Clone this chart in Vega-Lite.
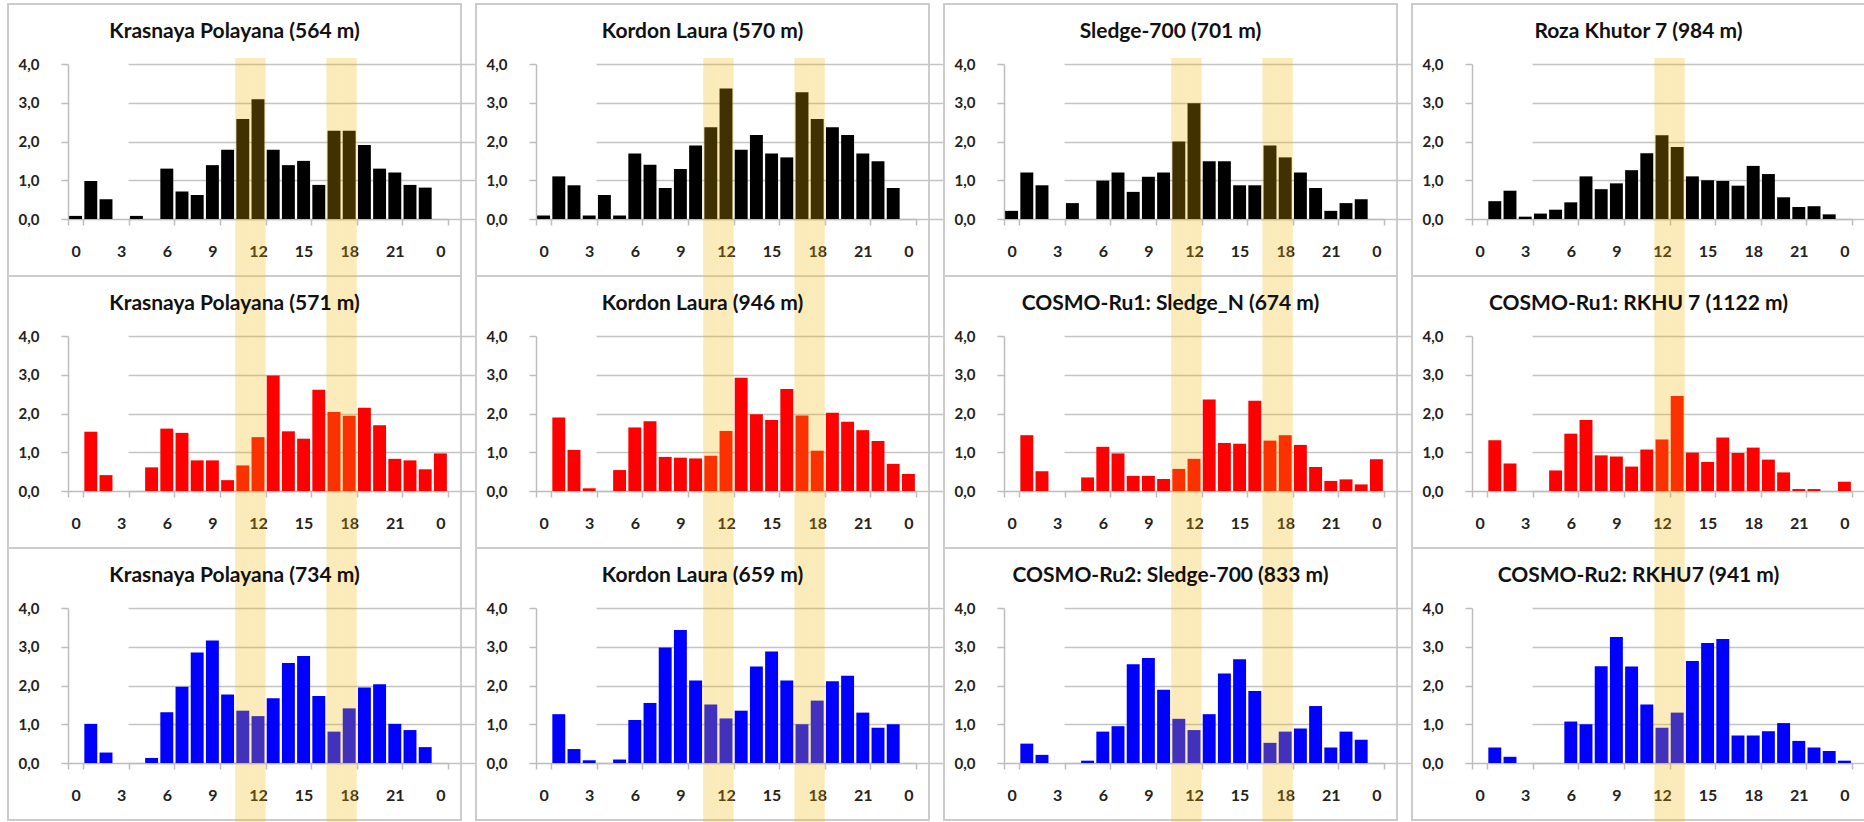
{
  "$schema": "https://vega.github.io/schema/vega-lite/v6.json",
  "padding": {"left": 7, "top": 3, "right": 0, "bottom": 0},
  "background": "white",
  "datasets": {
    "kp564": [{"h":0,"v":0.08},{"h":1,"v":0.98},{"h":2,"v":0.51},{"h":4,"v":0.08},{"h":6,"v":1.30},{"h":7,"v":0.71},{"h":8,"v":0.62},{"h":9,"v":1.39},{"h":10,"v":1.79},{"h":11,"v":2.58},{"h":12,"v":3.09},{"h":13,"v":1.79},{"h":14,"v":1.39},{"h":15,"v":1.50},{"h":16,"v":0.88},{"h":17,"v":2.28},{"h":18,"v":2.28},{"h":19,"v":1.91},{"h":20,"v":1.30},{"h":21,"v":1.20},{"h":22,"v":0.88},{"h":23,"v":0.81}],
    "kl570": [{"h":0,"v":0.09},{"h":1,"v":1.10},{"h":2,"v":0.87},{"h":3,"v":0.09},{"h":4,"v":0.62},{"h":5,"v":0.09},{"h":6,"v":1.69},{"h":7,"v":1.40},{"h":8,"v":0.80},{"h":9,"v":1.29},{"h":10,"v":1.90},{"h":11,"v":2.37},{"h":12,"v":3.37},{"h":13,"v":1.79},{"h":14,"v":2.17},{"h":15,"v":1.69},{"h":16,"v":1.59},{"h":17,"v":3.27},{"h":18,"v":2.58},{"h":19,"v":2.37},{"h":20,"v":2.17},{"h":21,"v":1.69},{"h":22,"v":1.49},{"h":23,"v":0.80}],
    "s701": [{"h":0,"v":0.21},{"h":1,"v":1.20},{"h":2,"v":0.87},{"h":4,"v":0.41},{"h":6,"v":0.99},{"h":7,"v":1.20},{"h":8,"v":0.70},{"h":9,"v":1.09},{"h":10,"v":1.20},{"h":11,"v":2.00},{"h":12,"v":2.99},{"h":13,"v":1.49},{"h":14,"v":1.49},{"h":15,"v":0.87},{"h":16,"v":0.87},{"h":17,"v":1.90},{"h":18,"v":1.59},{"h":19,"v":1.20},{"h":20,"v":0.80},{"h":21,"v":0.21},{"h":22,"v":0.41},{"h":23,"v":0.51}],
    "rk984": [{"h":1,"v":0.46},{"h":2,"v":0.73},{"h":3,"v":0.06},{"h":4,"v":0.14},{"h":5,"v":0.24},{"h":6,"v":0.43},{"h":7,"v":1.10},{"h":8,"v":0.77},{"h":9,"v":0.92},{"h":10,"v":1.26},{"h":11,"v":1.70},{"h":12,"v":2.16},{"h":13,"v":1.86},{"h":14,"v":1.10},{"h":15,"v":1.00},{"h":16,"v":0.98},{"h":17,"v":0.86},{"h":18,"v":1.37},{"h":19,"v":1.16},{"h":20,"v":0.56},{"h":21,"v":0.31},{"h":22,"v":0.33},{"h":23,"v":0.12}],
    "kp571": [{"h":1,"v":1.53},{"h":2,"v":0.41},{"h":5,"v":0.61},{"h":6,"v":1.61},{"h":7,"v":1.50},{"h":8,"v":0.79},{"h":9,"v":0.79},{"h":10,"v":0.28},{"h":11,"v":0.66},{"h":12,"v":1.39},{"h":13,"v":2.98},{"h":14,"v":1.54},{"h":15,"v":1.35},{"h":16,"v":2.61},{"h":17,"v":2.04},{"h":18,"v":1.94},{"h":19,"v":2.15},{"h":20,"v":1.70},{"h":21,"v":0.83},{"h":22,"v":0.79},{"h":23,"v":0.56},{"h":24,"v":0.97}],
    "kl946": [{"h":1,"v":1.90},{"h":2,"v":1.06},{"h":3,"v":0.07},{"h":5,"v":0.54},{"h":6,"v":1.64},{"h":7,"v":1.80},{"h":8,"v":0.88},{"h":9,"v":0.86},{"h":10,"v":0.84},{"h":11,"v":0.91},{"h":12,"v":1.55},{"h":13,"v":2.92},{"h":14,"v":1.98},{"h":15,"v":1.83},{"h":16,"v":2.63},{"h":17,"v":1.95},{"h":18,"v":1.04},{"h":19,"v":2.02},{"h":20,"v":1.79},{"h":21,"v":1.57},{"h":22,"v":1.29},{"h":23,"v":0.70},{"h":24,"v":0.44}],
    "ru1sn674": [{"h":1,"v":1.44},{"h":2,"v":0.51},{"h":5,"v":0.35},{"h":6,"v":1.14},{"h":7,"v":0.97},{"h":8,"v":0.39},{"h":9,"v":0.39},{"h":10,"v":0.31},{"h":11,"v":0.57},{"h":12,"v":0.83},{"h":13,"v":2.36},{"h":14,"v":1.24},{"h":15,"v":1.22},{"h":16,"v":2.33},{"h":17,"v":1.30},{"h":18,"v":1.44},{"h":19,"v":1.19},{"h":20,"v":0.62},{"h":21,"v":0.26},{"h":22,"v":0.30},{"h":23,"v":0.17},{"h":24,"v":0.82}],
    "ru1rk1122": [{"h":1,"v":1.31},{"h":2,"v":0.71},{"h":5,"v":0.53},{"h":6,"v":1.48},{"h":7,"v":1.83},{"h":8,"v":0.92},{"h":9,"v":0.89},{"h":10,"v":0.63},{"h":11,"v":1.07},{"h":12,"v":1.33},{"h":13,"v":2.45},{"h":14,"v":0.99},{"h":15,"v":0.75},{"h":16,"v":1.38},{"h":17,"v":0.98},{"h":18,"v":1.12},{"h":19,"v":0.81},{"h":20,"v":0.48},{"h":21,"v":0.05},{"h":22,"v":0.05},{"h":24,"v":0.24}],
    "kp734": [{"h":1,"v":1.01},{"h":2,"v":0.27},{"h":5,"v":0.13},{"h":6,"v":1.31},{"h":7,"v":1.97},{"h":8,"v":2.85},{"h":9,"v":3.16},{"h":10,"v":1.77},{"h":11,"v":1.35},{"h":12,"v":1.21},{"h":13,"v":1.67},{"h":14,"v":2.58},{"h":15,"v":2.76},{"h":16,"v":1.73},{"h":17,"v":0.81},{"h":18,"v":1.41},{"h":19,"v":1.95},{"h":20,"v":2.03},{"h":21,"v":1.01},{"h":22,"v":0.85},{"h":23,"v":0.41}],
    "kl659": [{"h":1,"v":1.26},{"h":2,"v":0.36},{"h":3,"v":0.07},{"h":5,"v":0.09},{"h":6,"v":1.11},{"h":7,"v":1.55},{"h":8,"v":2.98},{"h":9,"v":3.43},{"h":10,"v":2.13},{"h":11,"v":1.51},{"h":12,"v":1.15},{"h":13,"v":1.35},{"h":14,"v":2.49},{"h":15,"v":2.88},{"h":16,"v":2.13},{"h":17,"v":1.00},{"h":18,"v":1.61},{"h":19,"v":2.11},{"h":20,"v":2.25},{"h":21,"v":1.30},{"h":22,"v":0.91},{"h":23,"v":1.00}],
    "ru2s833": [{"h":1,"v":0.50},{"h":2,"v":0.21},{"h":5,"v":0.06},{"h":6,"v":0.81},{"h":7,"v":0.95},{"h":8,"v":2.55},{"h":9,"v":2.71},{"h":10,"v":1.89},{"h":11,"v":1.14},{"h":12,"v":0.85},{"h":13,"v":1.26},{"h":14,"v":2.31},{"h":15,"v":2.68},{"h":16,"v":1.86},{"h":17,"v":0.52},{"h":18,"v":0.81},{"h":19,"v":0.89},{"h":20,"v":1.47},{"h":21,"v":0.40},{"h":22,"v":0.81},{"h":23,"v":0.60}],
    "ru2rk941": [{"h":1,"v":0.40},{"h":2,"v":0.16},{"h":6,"v":1.07},{"h":7,"v":1.00},{"h":8,"v":2.50},{"h":9,"v":3.25},{"h":10,"v":2.49},{"h":11,"v":1.51},{"h":12,"v":0.91},{"h":13,"v":1.30},{"h":14,"v":2.63},{"h":15,"v":3.10},{"h":16,"v":3.20},{"h":17,"v":0.71},{"h":18,"v":0.71},{"h":19,"v":0.82},{"h":20,"v":1.03},{"h":21,"v":0.57},{"h":22,"v":0.40},{"h":23,"v":0.31},{"h":24,"v":0.06}],
    "hlNoonEvening": [{"h":11},{"h":12},{"h":17},{"h":18}],
    "hlNoon": [{"h":12},{"h":13}]
  },
  "spacing": 13,
  "hconcat": [
    {
      "bounds": "flush",
      "spacing": 0,
      "vconcat": [
        {
          "width": 453, "height": 272,
          "title": "Krasnaya Polayana (564 m)",
          "encoding": {"x": {"field": "h", "type": "ordinal", "scale": {"domain": [0,1,2,3,4,5,6,7,8,9,10,11,12,13,14,15,16,17,18,19,20,21,22,23,24], "range": [60, 440], "paddingInner": 0, "paddingOuter": 0}, "axis": {"values": [0,3,6,9,12,15,18,21,24], "labelExpr": "datum.value === 24 ? '0' : datum.label"}}},
          "layer": [
            {"data": {"name": "kp564"}, "mark": {"type": "bar", "color": "#000000", "width": {"band": 0.85}},
             "encoding": {"y": {"field": "v", "type": "quantitative", "scale": {"domain": [0, 4], "range": [215, 60], "nice": false}, "axis": {"values": [0,1,2,3,4], "labelExpr": "replace(format(datum.value, '.1f'), '.', ',')"}}}},
            {"data": {"name": "hlNoonEvening"}, "mark": {"type": "rect", "fill": "#F5B400", "fillOpacity": 0.27, "clip": false},
             "encoding": {"y": {"datum": 4.155}, "y2": {"datum": -1.471}}}
          ]
        },
        {
          "width": 453, "height": 272,
          "title": "Krasnaya Polayana (571 m)",
          "encoding": {"x": {"field": "h", "type": "ordinal", "scale": {"domain": [0,1,2,3,4,5,6,7,8,9,10,11,12,13,14,15,16,17,18,19,20,21,22,23,24], "range": [60, 440], "paddingInner": 0, "paddingOuter": 0}, "axis": {"values": [0,3,6,9,12,15,18,21,24], "labelExpr": "datum.value === 24 ? '0' : datum.label"}}},
          "layer": [
            {"data": {"name": "kp571"}, "mark": {"type": "bar", "color": "#FF0000", "width": {"band": 0.85}},
             "encoding": {"y": {"field": "v", "type": "quantitative", "scale": {"domain": [0, 4], "range": [215, 60], "nice": false}, "axis": {"values": [0,1,2,3,4], "labelExpr": "replace(format(datum.value, '.1f'), '.', ',')"}}}},
            {"data": {"name": "hlNoonEvening"}, "mark": {"type": "rect", "fill": "#F5B400", "fillOpacity": 0.27, "clip": false},
             "encoding": {"y": {"datum": 5.548}, "y2": {"datum": -1.471}}}
          ]
        },
        {
          "width": 453, "height": 272,
          "title": "Krasnaya Polayana (734 m)",
          "encoding": {"x": {"field": "h", "type": "ordinal", "scale": {"domain": [0,1,2,3,4,5,6,7,8,9,10,11,12,13,14,15,16,17,18,19,20,21,22,23,24], "range": [60, 440], "paddingInner": 0, "paddingOuter": 0}, "axis": {"values": [0,3,6,9,12,15,18,21,24], "labelExpr": "datum.value === 24 ? '0' : datum.label"}}},
          "layer": [
            {"data": {"name": "kp734"}, "mark": {"type": "bar", "color": "#0000FF", "width": {"band": 0.85}},
             "encoding": {"y": {"field": "v", "type": "quantitative", "scale": {"domain": [0, 4], "range": [215, 60], "nice": false}, "axis": {"values": [0,1,2,3,4], "labelExpr": "replace(format(datum.value, '.1f'), '.', ',')"}}}},
            {"data": {"name": "hlNoonEvening"}, "mark": {"type": "rect", "fill": "#F5B400", "fillOpacity": 0.27, "clip": false},
             "encoding": {"y": {"datum": 5.548}, "y2": {"datum": -1.548}}}
          ]
        }
      ]
    },
    {
      "bounds": "flush",
      "spacing": 0,
      "vconcat": [
        {
          "width": 453, "height": 272,
          "title": "Kordon Laura (570 m)",
          "encoding": {"x": {"field": "h", "type": "ordinal", "scale": {"domain": [0,1,2,3,4,5,6,7,8,9,10,11,12,13,14,15,16,17,18,19,20,21,22,23,24], "range": [60, 440], "paddingInner": 0, "paddingOuter": 0}, "axis": {"values": [0,3,6,9,12,15,18,21,24], "labelExpr": "datum.value === 24 ? '0' : datum.label"}}},
          "layer": [
            {"data": {"name": "kl570"}, "mark": {"type": "bar", "color": "#000000", "width": {"band": 0.85}},
             "encoding": {"y": {"field": "v", "type": "quantitative", "scale": {"domain": [0, 4], "range": [215, 60], "nice": false}, "axis": {"values": [0,1,2,3,4], "labelExpr": "replace(format(datum.value, '.1f'), '.', ',')"}}}},
            {"data": {"name": "hlNoonEvening"}, "mark": {"type": "rect", "fill": "#F5B400", "fillOpacity": 0.27, "clip": false},
             "encoding": {"y": {"datum": 4.155}, "y2": {"datum": -1.471}}}
          ]
        },
        {
          "width": 453, "height": 272,
          "title": "Kordon Laura (946 m)",
          "encoding": {"x": {"field": "h", "type": "ordinal", "scale": {"domain": [0,1,2,3,4,5,6,7,8,9,10,11,12,13,14,15,16,17,18,19,20,21,22,23,24], "range": [60, 440], "paddingInner": 0, "paddingOuter": 0}, "axis": {"values": [0,3,6,9,12,15,18,21,24], "labelExpr": "datum.value === 24 ? '0' : datum.label"}}},
          "layer": [
            {"data": {"name": "kl946"}, "mark": {"type": "bar", "color": "#FF0000", "width": {"band": 0.85}},
             "encoding": {"y": {"field": "v", "type": "quantitative", "scale": {"domain": [0, 4], "range": [215, 60], "nice": false}, "axis": {"values": [0,1,2,3,4], "labelExpr": "replace(format(datum.value, '.1f'), '.', ',')"}}}},
            {"data": {"name": "hlNoonEvening"}, "mark": {"type": "rect", "fill": "#F5B400", "fillOpacity": 0.27, "clip": false},
             "encoding": {"y": {"datum": 5.548}, "y2": {"datum": -1.471}}}
          ]
        },
        {
          "width": 453, "height": 272,
          "title": "Kordon Laura (659 m)",
          "encoding": {"x": {"field": "h", "type": "ordinal", "scale": {"domain": [0,1,2,3,4,5,6,7,8,9,10,11,12,13,14,15,16,17,18,19,20,21,22,23,24], "range": [60, 440], "paddingInner": 0, "paddingOuter": 0}, "axis": {"values": [0,3,6,9,12,15,18,21,24], "labelExpr": "datum.value === 24 ? '0' : datum.label"}}},
          "layer": [
            {"data": {"name": "kl659"}, "mark": {"type": "bar", "color": "#0000FF", "width": {"band": 0.85}},
             "encoding": {"y": {"field": "v", "type": "quantitative", "scale": {"domain": [0, 4], "range": [215, 60], "nice": false}, "axis": {"values": [0,1,2,3,4], "labelExpr": "replace(format(datum.value, '.1f'), '.', ',')"}}}},
            {"data": {"name": "hlNoonEvening"}, "mark": {"type": "rect", "fill": "#F5B400", "fillOpacity": 0.27, "clip": false},
             "encoding": {"y": {"datum": 5.548}, "y2": {"datum": -1.548}}}
          ]
        }
      ]
    },
    {
      "bounds": "flush",
      "spacing": 0,
      "vconcat": [
        {
          "width": 453, "height": 272,
          "title": "Sledge-700 (701 m)",
          "encoding": {"x": {"field": "h", "type": "ordinal", "scale": {"domain": [0,1,2,3,4,5,6,7,8,9,10,11,12,13,14,15,16,17,18,19,20,21,22,23,24], "range": [60, 440], "paddingInner": 0, "paddingOuter": 0}, "axis": {"values": [0,3,6,9,12,15,18,21,24], "labelExpr": "datum.value === 24 ? '0' : datum.label"}}},
          "layer": [
            {"data": {"name": "s701"}, "mark": {"type": "bar", "color": "#000000", "width": {"band": 0.85}},
             "encoding": {"y": {"field": "v", "type": "quantitative", "scale": {"domain": [0, 4], "range": [215, 60], "nice": false}, "axis": {"values": [0,1,2,3,4], "labelExpr": "replace(format(datum.value, '.1f'), '.', ',')"}}}},
            {"data": {"name": "hlNoonEvening"}, "mark": {"type": "rect", "fill": "#F5B400", "fillOpacity": 0.27, "clip": false},
             "encoding": {"y": {"datum": 4.155}, "y2": {"datum": -1.471}}}
          ]
        },
        {
          "width": 453, "height": 272,
          "title": "COSMO-Ru1: Sledge_N (674 m)",
          "encoding": {"x": {"field": "h", "type": "ordinal", "scale": {"domain": [0,1,2,3,4,5,6,7,8,9,10,11,12,13,14,15,16,17,18,19,20,21,22,23,24], "range": [60, 440], "paddingInner": 0, "paddingOuter": 0}, "axis": {"values": [0,3,6,9,12,15,18,21,24], "labelExpr": "datum.value === 24 ? '0' : datum.label"}}},
          "layer": [
            {"data": {"name": "ru1sn674"}, "mark": {"type": "bar", "color": "#FF0000", "width": {"band": 0.85}},
             "encoding": {"y": {"field": "v", "type": "quantitative", "scale": {"domain": [0, 4], "range": [215, 60], "nice": false}, "axis": {"values": [0,1,2,3,4], "labelExpr": "replace(format(datum.value, '.1f'), '.', ',')"}}}},
            {"data": {"name": "hlNoonEvening"}, "mark": {"type": "rect", "fill": "#F5B400", "fillOpacity": 0.27, "clip": false},
             "encoding": {"y": {"datum": 5.548}, "y2": {"datum": -1.471}}}
          ]
        },
        {
          "width": 453, "height": 272,
          "title": "COSMO-Ru2: Sledge-700 (833 m)",
          "encoding": {"x": {"field": "h", "type": "ordinal", "scale": {"domain": [0,1,2,3,4,5,6,7,8,9,10,11,12,13,14,15,16,17,18,19,20,21,22,23,24], "range": [60, 440], "paddingInner": 0, "paddingOuter": 0}, "axis": {"values": [0,3,6,9,12,15,18,21,24], "labelExpr": "datum.value === 24 ? '0' : datum.label"}}},
          "layer": [
            {"data": {"name": "ru2s833"}, "mark": {"type": "bar", "color": "#0000FF", "width": {"band": 0.85}},
             "encoding": {"y": {"field": "v", "type": "quantitative", "scale": {"domain": [0, 4], "range": [215, 60], "nice": false}, "axis": {"values": [0,1,2,3,4], "labelExpr": "replace(format(datum.value, '.1f'), '.', ',')"}}}},
            {"data": {"name": "hlNoonEvening"}, "mark": {"type": "rect", "fill": "#F5B400", "fillOpacity": 0.27, "clip": false},
             "encoding": {"y": {"datum": 5.548}, "y2": {"datum": -1.548}}}
          ]
        }
      ]
    },
    {
      "bounds": "flush",
      "spacing": 0,
      "vconcat": [
        {
          "width": 453, "height": 272,
          "title": "Roza Khutor 7 (984 m)",
          "encoding": {"x": {"field": "h", "type": "ordinal", "scale": {"domain": [0,1,2,3,4,5,6,7,8,9,10,11,12,13,14,15,16,17,18,19,20,21,22,23,24], "range": [60, 440], "paddingInner": 0, "paddingOuter": 0}, "axis": {"values": [0,3,6,9,12,15,18,21,24], "labelExpr": "datum.value === 24 ? '0' : datum.label"}}},
          "layer": [
            {"data": {"name": "rk984"}, "mark": {"type": "bar", "color": "#000000", "width": {"band": 0.85}},
             "encoding": {"y": {"field": "v", "type": "quantitative", "scale": {"domain": [0, 4], "range": [215, 60], "nice": false}, "axis": {"values": [0,1,2,3,4], "labelExpr": "replace(format(datum.value, '.1f'), '.', ',')"}}}},
            {"data": {"name": "hlNoon"}, "mark": {"type": "rect", "fill": "#F5B400", "fillOpacity": 0.27, "clip": false},
             "encoding": {"y": {"datum": 4.155}, "y2": {"datum": -1.471}}}
          ]
        },
        {
          "width": 453, "height": 272,
          "title": "COSMO-Ru1: RKHU 7 (1122 m)",
          "encoding": {"x": {"field": "h", "type": "ordinal", "scale": {"domain": [0,1,2,3,4,5,6,7,8,9,10,11,12,13,14,15,16,17,18,19,20,21,22,23,24], "range": [60, 440], "paddingInner": 0, "paddingOuter": 0}, "axis": {"values": [0,3,6,9,12,15,18,21,24], "labelExpr": "datum.value === 24 ? '0' : datum.label"}}},
          "layer": [
            {"data": {"name": "ru1rk1122"}, "mark": {"type": "bar", "color": "#FF0000", "width": {"band": 0.85}},
             "encoding": {"y": {"field": "v", "type": "quantitative", "scale": {"domain": [0, 4], "range": [215, 60], "nice": false}, "axis": {"values": [0,1,2,3,4], "labelExpr": "replace(format(datum.value, '.1f'), '.', ',')"}}}},
            {"data": {"name": "hlNoon"}, "mark": {"type": "rect", "fill": "#F5B400", "fillOpacity": 0.27, "clip": false},
             "encoding": {"y": {"datum": 5.548}, "y2": {"datum": -1.471}}}
          ]
        },
        {
          "width": 453, "height": 272,
          "title": "COSMO-Ru2: RKHU7 (941 m)",
          "encoding": {"x": {"field": "h", "type": "ordinal", "scale": {"domain": [0,1,2,3,4,5,6,7,8,9,10,11,12,13,14,15,16,17,18,19,20,21,22,23,24], "range": [60, 440], "paddingInner": 0, "paddingOuter": 0}, "axis": {"values": [0,3,6,9,12,15,18,21,24], "labelExpr": "datum.value === 24 ? '0' : datum.label"}}},
          "layer": [
            {"data": {"name": "ru2rk941"}, "mark": {"type": "bar", "color": "#0000FF", "width": {"band": 0.85}},
             "encoding": {"y": {"field": "v", "type": "quantitative", "scale": {"domain": [0, 4], "range": [215, 60], "nice": false}, "axis": {"values": [0,1,2,3,4], "labelExpr": "replace(format(datum.value, '.1f'), '.', ',')"}}}},
            {"data": {"name": "hlNoon"}, "mark": {"type": "rect", "fill": "#F5B400", "fillOpacity": 0.27, "clip": false},
             "encoding": {"y": {"datum": 5.548}, "y2": {"datum": -1.548}}}
          ]
        }
      ]
    }
  ],
  "config": {
    "view": {"stroke": "#cccccc", "strokeWidth": 2, "fill": "white"},
    "title": {"font": "Lato", "fontSize": 21, "fontWeight": "bold", "color": "#111111", "anchor": "middle", "frame": "group", "offset": -38},
    "axis": {"title": null, "labelFont": "Lato", "labelFontWeight": "bold", "labelColor": "#222222", "domainColor": "#bdbdbd", "domainWidth": 1.5, "tickColor": "#bdbdbd", "tickWidth": 1.5},
    "axisX": {"tickBand": "extent", "offset": -57, "labelAngle": 0, "labelFontSize": 16, "tickSize": 6, "labelPadding": 18, "grid": false},
    "axisY": {"offset": -60, "labelFontSize": 15, "tickSize": 7, "labelPadding": 22, "grid": true, "gridColor": "#c4c4c4", "gridWidth": 1.5}
  }
}
